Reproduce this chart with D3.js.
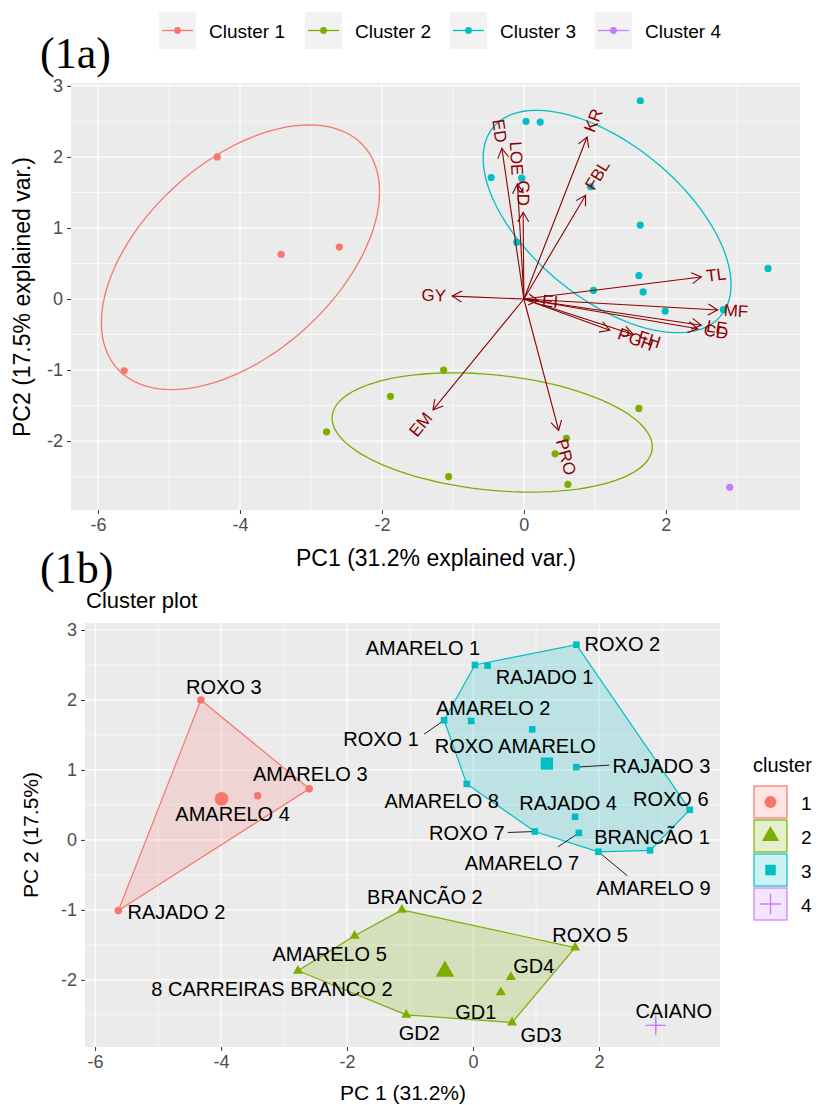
<!DOCTYPE html>
<html>
<head>
<meta charset="utf-8">
<script src="https://cdn.jsdelivr.net/npm/d3@7"></script>
<style>
body { margin: 0; background: #fff; }
svg text { font-family: "Liberation Sans", Arial, sans-serif; }
</style>
</head>
<body>
<div id="chart"></div>
<script>
// genotype scores on the first two principal components
const genotypes = ["ROXO 3", "AMARELO 3", "AMARELO 4", "RAJADO 2",
  "BRANCÃO 2", "AMARELO 5", "8 CARREIRAS BRANCO 2", "GD2", "GD3", "ROXO 5", "GD4", "GD1",
  "AMARELO 1", "RAJADO 1", "ROXO 2", "ROXO 1", "AMARELO 2", "ROXO AMARELO", "RAJADO 3",
  "AMARELO 8", "ROXO 6", "RAJADO 4", "ROXO 7", "AMARELO 7", "BRANCÃO 1", "AMARELO 9",
  "CAIANO"];
const pc1 = [-4.32, -2.60, -3.42, -5.63,
  -1.13, -1.88, -2.78, -1.06, 0.62, 1.62, 0.60, 0.44,
  0.03, 0.23, 1.64, -0.46, -0.03, 0.94, 1.64,
  -0.10, 3.44, 1.62, 0.98, 1.68, 2.81, 1.99,
  2.90];
const pc2 = [2.00, 0.73, 0.63, -1.01,
  -1.00, -1.37, -1.87, -2.50, -2.61, -1.54, -1.96, -2.18,
  2.50, 2.49, 2.79, 1.71, 1.70, 1.58, 1.04,
  0.80, 0.43, 0.33, 0.12, 0.10, -0.15, -0.17,
  -2.65];
const cluster = [1, 1, 1, 1,
  2, 2, 2, 2, 2, 2, 2, 2,
  3, 3, 3, 3, 3, 3, 3,
  3, 3, 3, 3, 3, 3, 3,
  4];

// variable loadings (biplot arrows)
const varNames = ["GY", "ED", "LOE", "GD", "KR", "FBL", "TL", "MF", "LE", "CD", "PGH", "FH", "EI", "EM", "PRO"];
const varPC1 = [-1.01, -0.31, -0.09, -0.01, 0.89, 0.87, 2.50, 2.73, 2.50, 2.45, 1.21, 1.54, 0.20, -1.28, 0.49];
const varPC2 = [0.04, 2.12, 1.62, 1.22, 2.28, 1.46, 0.31, -0.155, -0.37, -0.42, -0.44, -0.50, -0.02, -1.56, -1.85];

const clusterIds = [1, 2, 3, 4];
const clusterNames = ["Cluster 1", "Cluster 2", "Cluster 3", "Cluster 4"];
const xTicks = [-6, -4, -2, 0, 2];
const yTicks = [-2, -1, 0, 1, 2, 3];

const colors = d3.scaleOrdinal().domain(clusterIds).range(["#F8766D", "#7CAE00", "#00BFC4", "#C77CFF"]);
const points = genotypes.map((g, i) => ({ name: g, x: pc1[i], y: pc2[i], c: cluster[i] }));

const svg = d3.select("#chart").append("svg")
  .attr("width", 819).attr("height", 1105);

function panel(g, x, y) {
  const [x0, x1] = x.range(), [y0, y1] = y.range();
  g.append("rect").attr("x", x0).attr("y", y1).attr("width", x1 - x0).attr("height", y0 - y1)
    .attr("fill", "#EBEBEB");
  const minorX = xTicks.map(d => d + 1).filter(d => d < x.domain()[1]);
  const minorY = yTicks.map(d => d - 0.5).concat([yTicks[yTicks.length - 1] + 0.5]).filter(d => d > y.domain()[0] && d < y.domain()[1]);
  g.selectAll(".mx").data(minorX).join("line")
    .attr("x1", d => x(d)).attr("x2", d => x(d)).attr("y1", y0).attr("y2", y1)
    .attr("stroke", "#fff").attr("stroke-width", 0.6);
  g.selectAll(".my").data(minorY).join("line")
    .attr("y1", d => y(d)).attr("y2", d => y(d)).attr("x1", x0).attr("x2", x1)
    .attr("stroke", "#fff").attr("stroke-width", 0.6);
  g.selectAll(".gx").data(xTicks).join("line")
    .attr("x1", d => x(d)).attr("x2", d => x(d)).attr("y1", y0).attr("y2", y1)
    .attr("stroke", "#fff").attr("stroke-width", 1.2);
  g.selectAll(".gy").data(yTicks).join("line")
    .attr("y1", d => y(d)).attr("y2", d => y(d)).attr("x1", x0).attr("x2", x1)
    .attr("stroke", "#fff").attr("stroke-width", 1.2);

  const ax = g.append("g").attr("transform", `translate(0,${y0})`)
    .call(d3.axisBottom(x).tickValues(xTicks).tickSize(4).tickPadding(4).tickFormat(d => String(d)));
  const ay = g.append("g").attr("transform", `translate(${x0},0)`)
    .call(d3.axisLeft(y).tickValues(yTicks).tickSize(4).tickPadding(4).tickFormat(d => String(d)));
  [ax, ay].forEach(a => {
    a.select(".domain").remove();
    a.selectAll("line").attr("stroke", "#333");
    a.selectAll("text").attr("fill", "#4D4D4D").style("font-size", "18px");
  });
}

// ---------------- (1a) biplot ----------------
const xA = d3.scaleLinear().domain([-6.38, 3.89]).range([71, 800]);
const yA = d3.scaleLinear().domain([-2.97, 3.04]).range([510, 83]);
const gA = svg.append("g");
panel(gA, xA, yA);

// normal data ellipses (prob 0.68), as ggbiplot
const ed = Math.sqrt(-2 * Math.log(1 - 0.68));
clusterIds.forEach(c => {
  const p = points.filter(d => d.c === c);
  if (p.length <= 2) return;
  const mx = d3.mean(p, d => d.x), my = d3.mean(p, d => d.y);
  const n = p.length;
  const a = d3.sum(p, d => (d.x - mx) ** 2) / (n - 1);
  const b = d3.sum(p, d => (d.x - mx) * (d.y - my)) / (n - 1);
  const cc = d3.sum(p, d => (d.y - my) ** 2) / (n - 1);
  const r11 = Math.sqrt(a), r12 = b / r11, r22 = Math.sqrt(cc - r12 * r12);
  const pts = d3.range(0, 101).map(k => {
    const t = -Math.PI + 2 * Math.PI * k / 100;
    return [mx + ed * Math.cos(t) * r11, my + ed * (Math.cos(t) * r12 + Math.sin(t) * r22)];
  });
  gA.append("path").attr("d", d3.line().x(d => xA(d[0])).y(d => yA(d[1]))(pts))
    .attr("fill", "none").attr("stroke", colors(c)).attr("stroke-width", 1.3);
});

// points
gA.selectAll(".ptA").data(points).join("circle")
  .attr("cx", d => xA(d.x)).attr("cy", d => yA(d.y)).attr("r", 3.6)
  .attr("fill", d => colors(d.c));

// arrows
const dark = "#8B0000";
varNames.forEach((v, i) => {
  const ox = xA(0), oy = yA(0), tx = xA(varPC1[i]), ty = yA(varPC2[i]);
  gA.append("line").attr("x1", ox).attr("y1", oy).attr("x2", tx).attr("y2", ty)
    .attr("stroke", dark).attr("stroke-width", 1.1);
  const ang = Math.atan2(ty - oy, tx - ox), L = 11, s = Math.PI / 6;
  const h1 = [tx - L * Math.cos(ang - s), ty - L * Math.sin(ang - s)];
  const h2 = [tx - L * Math.cos(ang + s), ty - L * Math.sin(ang + s)];
  gA.append("path").attr("d", `M${h1}L${tx},${ty}L${h2}`)
    .attr("fill", "none").attr("stroke", dark).attr("stroke-width", 1.1);
  // label: angle = atan(y/x), hjust = (1 - 1.5*sign(x))/2
  const deg = Math.atan(varPC2[i] / varPC1[i]) * 180 / Math.PI;
  const hj = (1 - 1.5 * Math.sign(varPC1[i])) / 2;
  const t = gA.append("text").text(v)
    .attr("fill", dark).style("font-size", "17px")
    .attr("dominant-baseline", "central")
    .attr("transform", `translate(${tx},${ty}) rotate(${-deg})`);
  const w = t.node().getComputedTextLength();
  t.attr("x", -hj * w);
});

// top legend
const legA = svg.append("g");
const legX = [159, 305, 450, 595];
clusterIds.forEach((c, i) => {
  const k = legA.append("g").attr("transform", `translate(${legX[i]},12)`);
  k.append("rect").attr("width", 37).attr("height", 37).attr("fill", "#F2F2F2");
  k.append("line").attr("x1", 3).attr("x2", 34).attr("y1", 18.5).attr("y2", 18.5)
    .attr("stroke", colors(c)).attr("stroke-width", 1.3);
  k.append("circle").attr("cx", 18.5).attr("cy", 18.5).attr("r", 3.4).attr("fill", colors(c));
  k.append("text").attr("x", 50).attr("y", 19).attr("dominant-baseline", "central")
    .style("font-size", "19px").attr("fill", "#000").text(clusterNames[i]);
});

svg.append("text").attr("x", 40).attr("y", 68).text("(1a)")
  .style("font-family", "'Liberation Serif', 'Times New Roman', serif").style("font-size", "44px");
svg.append("text").attr("x", 436).attr("y", 566).attr("text-anchor", "middle")
  .style("font-size", "23px").text("PC1 (31.2% explained var.)");
svg.append("text").attr("transform", "translate(30,297) rotate(-90)").attr("text-anchor", "middle")
  .style("font-size", "23px").text("PC2 (17.5% explained var.)");

// ---------------- (1b) cluster plot ----------------
const xB = d3.scaleLinear().domain([-6.16, 3.92]).range([85, 720]);
const yB = d3.scaleLinear().domain([-2.96, 3.10]).range([1047, 623]);
const gB = svg.append("g");
panel(gB, xB, yB);

// convex hulls
clusterIds.forEach(c => {
  const p = points.filter(d => d.c === c).map(d => [xB(d.x), yB(d.y)]);
  if (p.length < 3) return;
  const hull = d3.polygonHull(p);
  gB.append("path").attr("d", "M" + hull.join("L") + "Z")
    .attr("fill", colors(c)).attr("fill-opacity", 0.2)
    .attr("stroke", colors(c)).attr("stroke-width", 1.2);
});

const shapes = { 1: d3.symbolCircle, 2: d3.symbolTriangle, 3: d3.symbolSquare };
function drawShape(g, c, px, py, size) {
  if (c === 4) {
    const h = Math.sqrt(size) * 0.75;
    g.append("path").attr("d", `M${px - h},${py}H${px + h}M${px},${py - h}V${py + h}`)
      .attr("stroke", colors(c)).attr("stroke-width", 1.3);
  } else {
    g.append("path").attr("d", d3.symbol(shapes[c], size)())
      .attr("transform", `translate(${px},${py})`).attr("fill", colors(c));
  }
}

// label placement (repelled positions, pixel offsets from the point)
const labelNudge = {
  "ROXO 3": [23, -13], "AMARELO 3": [1, -15], "AMARELO 4": [-25, 18], "RAJADO 2": [58, 1],
  "BRANCÃO 2": [23, -13], "AMARELO 5": [-25, 18], "8 CARREIRAS BRANCO 2": [-26, 18],
  "GD2": [13, 18], "GD3": [29, 12], "ROXO 5": [15, -13], "GD4": [23, -11], "GD1": [-25, 20],
  "AMARELO 1": [-52, -17], "RAJADO 1": [57, 11], "ROXO 2": [46, -1], "ROXO 1": [-63, 19],
  "AMARELO 2": [22, -13], "ROXO AMARELO": [-17, 17], "RAJADO 3": [85, -1], "AMARELO 8": [-25, 17],
  "ROXO 6": [-19, -11], "RAJADO 4": [-7, -14], "ROXO 7": [-68, 1], "AMARELO 7": [-57, 30],
  "BRANCÃO 1": [2, -13], "AMARELO 9": [55, 36], "CAIANO": [18, -14]
};
const labelSegs = { "ROXO 1": [-20, 14], "RAJADO 3": [33, -2], "ROXO 7": [-27, 1],
  "AMARELO 7": [-21, 14], "AMARELO 9": [29, 24] };

points.forEach(d => {
  const s = labelSegs[d.name];
  if (s) gB.append("line").attr("x1", xB(d.x)).attr("y1", yB(d.y))
    .attr("x2", xB(d.x) + s[0]).attr("y2", yB(d.y) + s[1]).attr("stroke", "#222").attr("stroke-width", 1);
});

points.forEach(d => drawShape(gB, d.c, xB(d.x), yB(d.y), 44));

// centroids
clusterIds.forEach(c => {
  const p = points.filter(d => d.c === c);
  drawShape(gB, c, xB(d3.mean(p, d => d.x)), yB(d3.mean(p, d => d.y)), c === 4 ? 180 : 150);
});

points.forEach(d => {
  const o = labelNudge[d.name];
  gB.append("text").attr("x", xB(d.x) + o[0]).attr("y", yB(d.y) + o[1])
    .attr("text-anchor", "middle").attr("dominant-baseline", "central")
    .style("font-size", "20px").attr("fill", "#000").text(d.name);
});

svg.append("text").attr("x", 40).attr("y", 583).text("(1b)")
  .style("font-family", "'Liberation Serif', 'Times New Roman', serif").style("font-size", "44px");
svg.append("text").attr("x", 86).attr("y", 608).style("font-size", "22px").text("Cluster plot");
svg.append("text").attr("x", 403).attr("y", 1100).attr("text-anchor", "middle")
  .style("font-size", "21px").text("PC 1 (31.2%)");
svg.append("text").attr("transform", "translate(38,835) rotate(-90)").attr("text-anchor", "middle")
  .style("font-size", "21px").text("PC 2 (17.5%)");

// cluster legend
const legB = svg.append("g").attr("transform", "translate(753,0)");
legB.append("text").attr("x", 0).attr("y", 765).attr("dominant-baseline", "central")
  .style("font-size", "20px").text("cluster");
const keyY = [786, 820, 854, 888];
clusterIds.forEach((c, i) => {
  legB.append("rect").attr("x", 1).attr("y", keyY[i]).attr("width", 33).attr("height", 32)
    .attr("fill", colors(c)).attr("fill-opacity", 0.2)
    .attr("stroke", colors(c)).attr("stroke-width", 1.2);
  drawShape(legB, c, 17.5, keyY[i] + 16, c === 4 ? 200 : c === 2 ? 130 : 110);
  legB.append("text").attr("x", 48).attr("y", keyY[i] + 17).attr("dominant-baseline", "central")
    .style("font-size", "19px").text(String(c));
});
</script>
</body>
</html>
